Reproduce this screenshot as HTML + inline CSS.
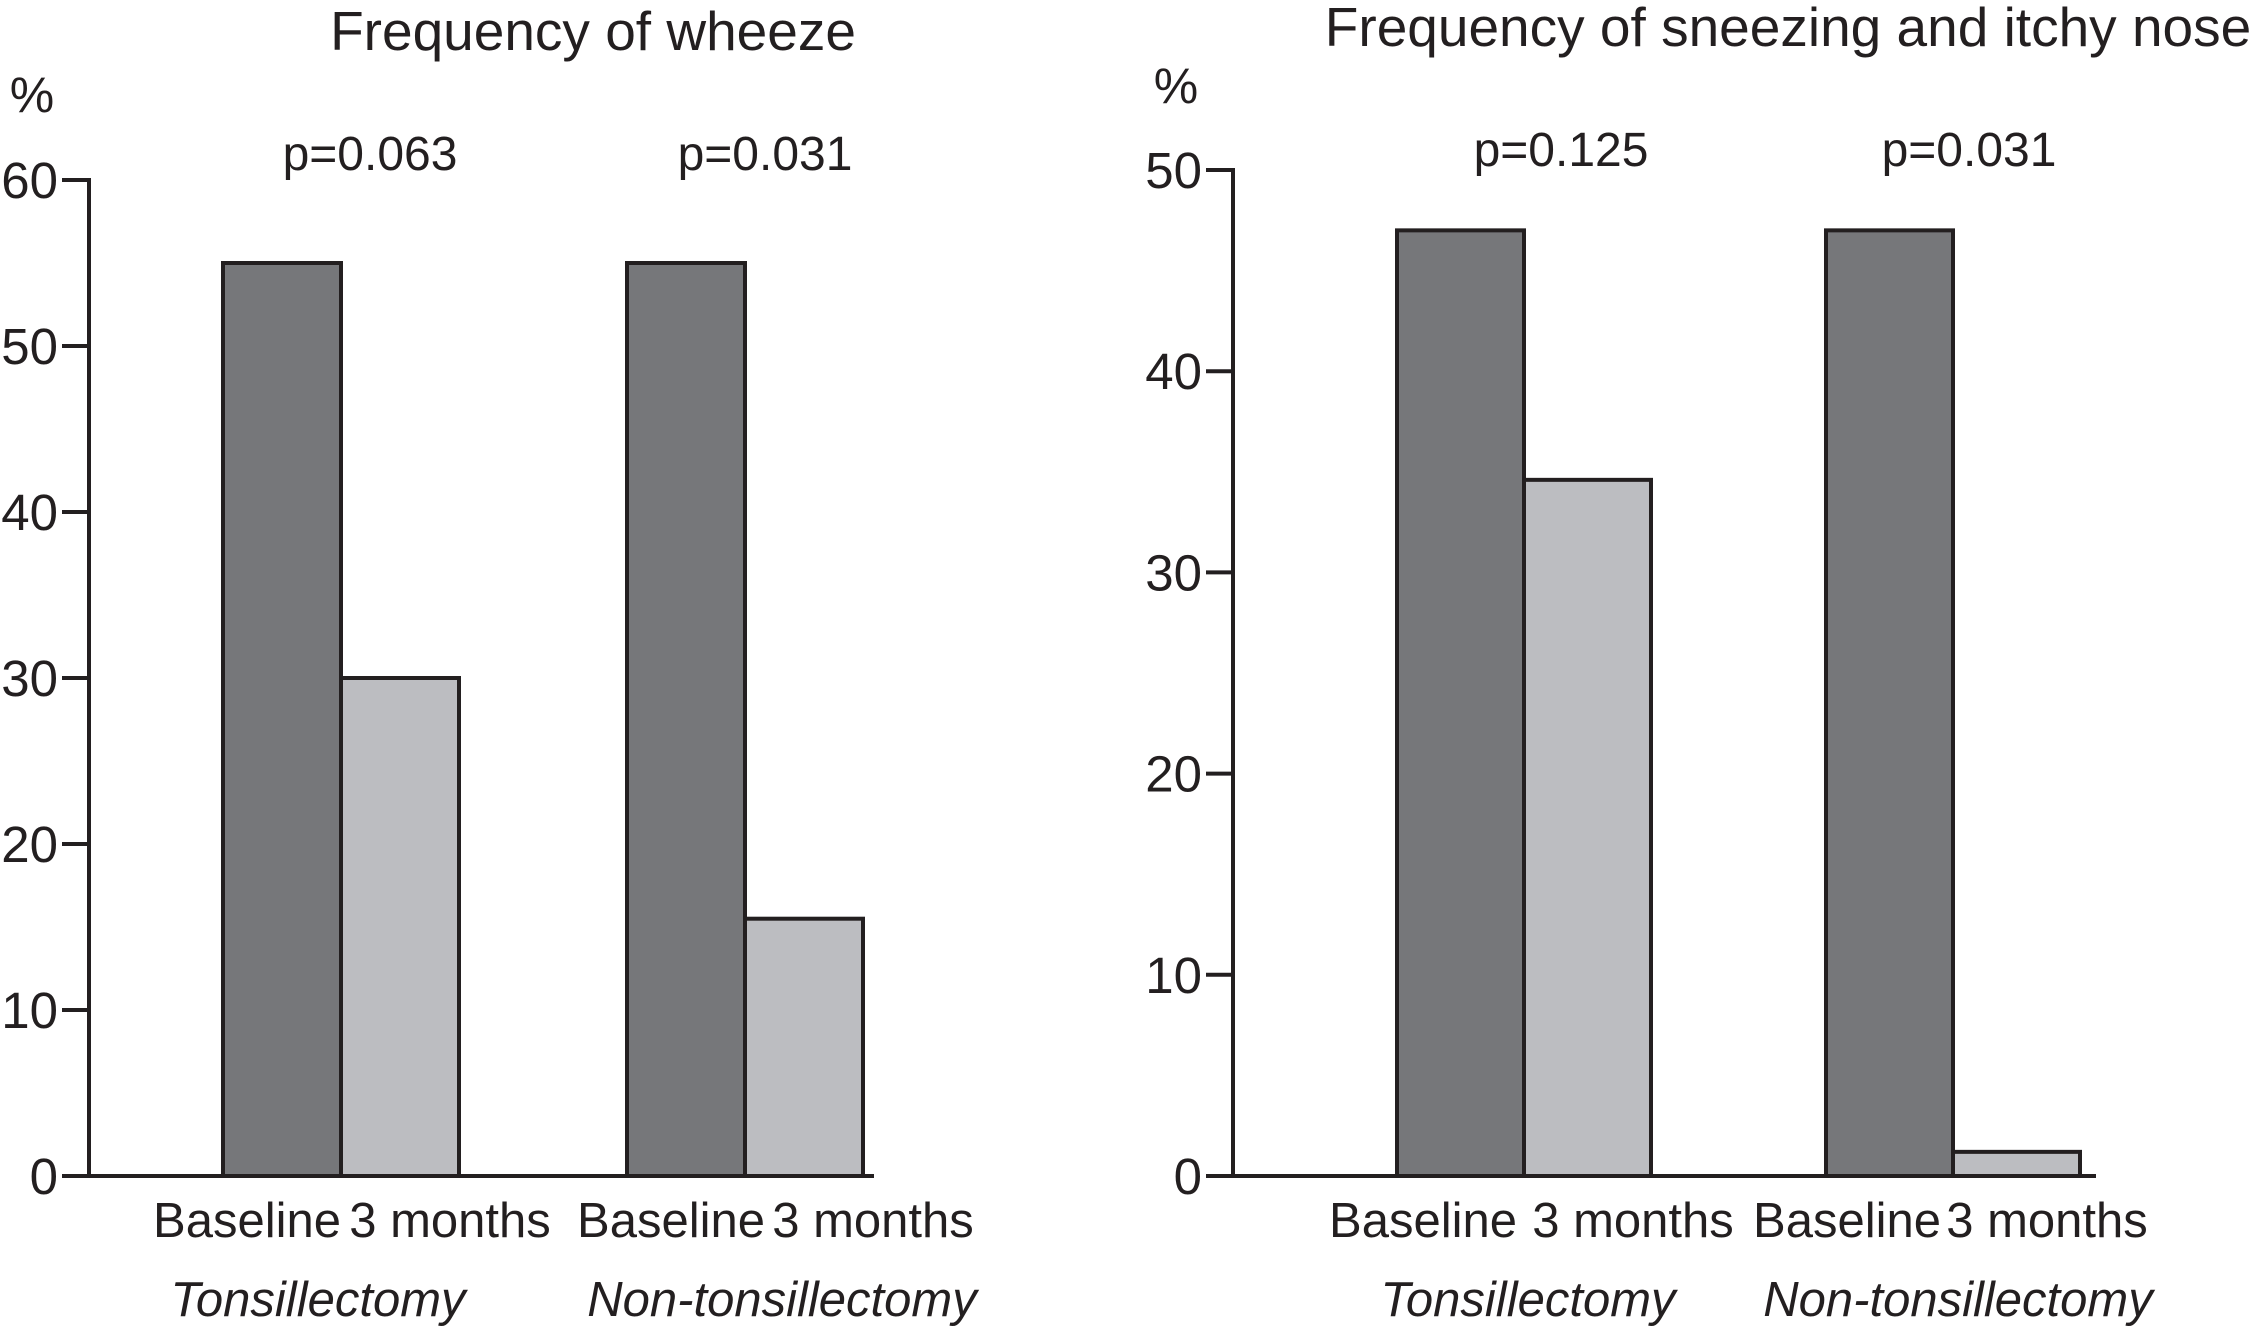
<!DOCTYPE html>
<html><head><meta charset="utf-8"><style>
html,body{margin:0;padding:0;background:#fff;}
svg{display:block;font-family:"Liberation Sans",Arial,sans-serif;fill:#231f20;}
</style></head><body>
<svg id="chart" width="2254" height="1326" viewBox="0 0 2254 1326" xmlns="http://www.w3.org/2000/svg"></svg>
<script>
const groups = ["Tonsillectomy", "Non-tonsillectomy"];
const periods = ["Baseline", "3 months"];
const wheezeBaseline = [55, 55];
const wheezeMonths = [30, 15.5];
const wheezeP = ["p=0.063", "p=0.031"];
const wheezeTicks = [0, 10, 20, 30, 40, 50, 60];
const sneezeBaseline = [47, 47];
const sneezeMonths = [34.6, 1.2];
const sneezeP = ["p=0.125", "p=0.031"];
const sneezeTicks = [0, 10, 20, 30, 40, 50];

const svg = document.getElementById('chart');
const NS = 'http://www.w3.org/2000/svg';
function mk(tag, attrs, text) {
  const e = document.createElementNS(NS, tag);
  for (const k in attrs) e.setAttribute(k, attrs[k]);
  if (text !== undefined) e.textContent = text;
  svg.appendChild(e);
  return e;
}

function panel(cfg) {
  const yMax = cfg.ticks[cfg.ticks.length - 1];
  const y = v => cfg.y0 - (v / yMax) * (cfg.y0 - cfg.yTop);
  let e;
  e = mk('text', {x: cfg.titleX, y: cfg.titleY, 'text-anchor': 'middle', 'font-size': 55}, cfg.title);
  
  
  e = mk('text', {x: cfg.pctX, y: cfg.pctY, 'text-anchor': 'middle', 'font-size': 50}, '%');
  
  
  cfg.ticks.forEach(t => {
    const ty = y(t);
    const l = mk('line', {x1: cfg.axisX - 27, x2: cfg.axisX, y1: ty, y2: ty, stroke: '#231f20', 'stroke-width': 4});
    
    
    const tx = mk('text', {x: cfg.axisX - 31, y: ty + 18, 'text-anchor': 'end', 'font-size': 51}, String(t));
    
    
  });
  groups.forEach((g, i) => {
    const vals = [cfg.base[i], cfg.months[i]];
    vals.forEach((v, j) => {
      const x0 = cfg.groupX[i] + j * cfg.barW;
      const r = mk('rect', {x: x0, y: y(v), width: cfg.barW, height: cfg.y0 - y(v),
        fill: j === 0 ? '#76777a' : '#bcbdc1', stroke: '#231f20', 'stroke-width': 4});
      
      
      const lb = mk('text', {x: cfg.labelX[i * 2 + j], y: 1237, 'text-anchor': 'middle', 'font-size': 49}, periods[j]);
      
      
    });
    const gl = mk('text', {x: cfg.groupLabelX[i], y: 1316, 'text-anchor': 'middle', 'font-size': 49, 'font-style': 'italic'}, g);
    
    
    const p = mk('text', {x: cfg.pX[i], y: cfg.pY, 'text-anchor': 'middle', 'font-size': 48}, cfg.p[i]);
    
    
  });
  e = mk('line', {x1: cfg.axisX, x2: cfg.axisX, y1: cfg.yTop - 2, y2: cfg.y0 + 2, stroke: '#231f20', 'stroke-width': 4});
  
  
  e = mk('line', {x1: cfg.axisX - 27, x2: cfg.axisEnd, y1: cfg.y0, y2: cfg.y0, stroke: '#231f20', 'stroke-width': 4});
  
  
}

panel({key: 'wheeze', title: 'Frequency of wheeze', titleX: 593, titleY: 50, pctX: 32, pctY: 112,
  axisX: 89, axisEnd: 874, y0: 1176, yTop: 180, ticks: wheezeTicks,
  groupX: [223, 627], barW: 118, base: wheezeBaseline, months: wheezeMonths, p: wheezeP, pY: 170,
  pX: [370, 765], labelX: [247, 450, 671, 873], groupLabelX: [318, 782]});
panel({key: 'sneeze', title: 'Frequency of sneezing and itchy nose', titleX: 1788, titleY: 46, pctX: 1176, pctY: 103,
  axisX: 1233, axisEnd: 2096, y0: 1176, yTop: 170, ticks: sneezeTicks,
  groupX: [1397, 1826], barW: 127, base: sneezeBaseline, months: sneezeMonths, p: sneezeP, pY: 166,
  pX: [1561, 1969], labelX: [1423, 1633, 1847, 2047], groupLabelX: [1528, 1958]});
</script>
</body></html>
